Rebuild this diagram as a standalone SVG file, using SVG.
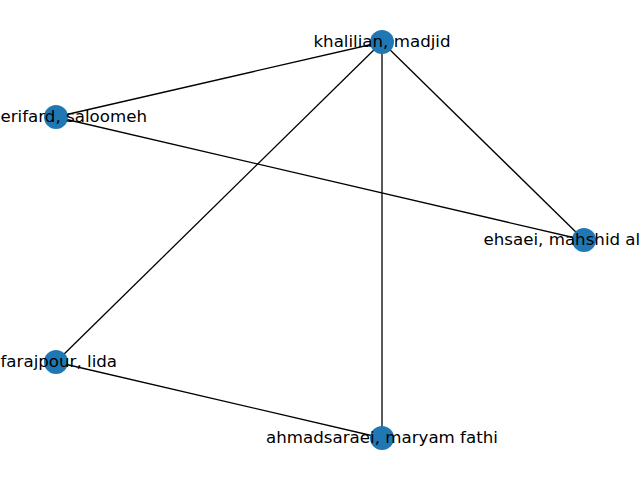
<svg xmlns="http://www.w3.org/2000/svg" width="640" height="480" viewBox="0 0 640 480">
<style>
.edge{stroke:#000;stroke-width:1.3;fill:none}
.node circle{fill:#1f77b4}
.node text{font-family:"DejaVu Sans",sans-serif;font-size:16.67px;fill:#000}
</style>
<rect width="640" height="480" fill="#fff"/>
<g id="edges">
<line class="edge" x1="382" y1="42" x2="56" y2="117"/>
<line class="edge" x1="382" y1="42" x2="584" y2="240"/>
<line class="edge" x1="382" y1="42" x2="56" y2="362"/>
<line class="edge" x1="382" y1="42" x2="382" y2="438"/>
<line class="edge" x1="56" y1="117" x2="584" y2="240"/>
<line class="edge" x1="56" y1="362" x2="382" y2="438"/>
</g>
<g id="node-khalilian" class="node"><circle cx="382" cy="42" r="12"/><text x="382" y="47" text-anchor="middle">khalilian, madjid</text></g>
<g id="node-saloomeh" class="node"><circle cx="56" cy="117" r="12"/><text x="0.5" y="122" text-anchor="start">erifard, saloomeh</text></g>
<g id="node-ehsaei" class="node"><circle cx="584" cy="240" r="12"/><text x="483.5" y="245" text-anchor="start">ehsaei, mahshid al</text></g>
<g id="node-farajpour" class="node"><circle cx="56" cy="362" r="12"/><text x="0.5" y="367" text-anchor="start">farajpour, lida</text></g>
<g id="node-ahmadsaraei" class="node"><circle cx="382" cy="438" r="12"/><text x="382" y="443" text-anchor="middle">ahmadsaraei, maryam fathi</text></g>
</svg>
